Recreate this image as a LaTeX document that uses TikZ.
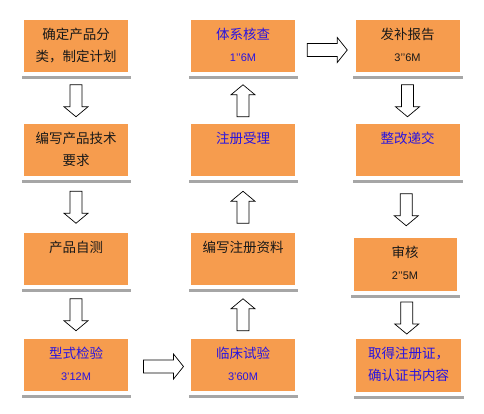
\documentclass[tikz,border=0pt]{standalone}
\usepackage{fontspec}
\setmainfont{Noto Sans CJK SC}
\newfontfamily\numfont{Liberation Sans}
\usetikzlibrary{calc}

\definecolor{boxorange}{RGB}{246,156,78}
\definecolor{txtblue}{RGB}{40,20,225}
\definecolor{txtblack}{RGB}{25,25,25}
\newcommand{\mnum}[1]{{\numfont\fontsize{11}{22}\selectfont #1}}

\tikzset{
  box/.style={fill=boxorange,minimum width=104pt,minimum height=52pt,inner sep=0pt},
  txt/.style={anchor=base,align=center,inner sep=0pt,font=\fontsize{13.5}{22}\selectfont},
  shadowbar/.style={fill=black!35},
  vtip/.pic={\draw[fill=white,line width=0.7pt] (-16,-6) -- (6,-6) -- (6,-12) -- (16,0)
    -- (6,12) -- (6,6) -- (-16,6) -- cycle;},
  htip/.pic={\draw[fill=white,line width=0.7pt] (-20,-6.5) -- (10,-6.5) -- (10,-12.5) -- (20,0)
    -- (10,12.5) -- (10,6.5) -- (-20,6.5) -- cycle;}
}

\begin{document}
\begin{tikzpicture}[x=1pt,y=-1pt]
\useasboundingbox[fill=white] (0,0) rectangle (484,413);

% boxes
\node[box] (fenlei) at (76,46) {};
\node[box] (jishu) at (76,149.5) {};
\node[box] (zice) at (76,259) {};
\node[box] (xingjian) at (76,364.5) {};
\node[box] (linchuang) at (243,364.5) {};
\node[box] (bianxie) at (243,259) {};
\node[box] (shouli) at (243,149.5) {};
\node[box] (hecha) at (243,46) {};
\node[box] (bubao) at (407.5,46) {};
\node[box] (zhenggai) at (407.5,149.5) {};
\node[box,minimum width=103pt,minimum height=53pt] (shenhe) at (405,264.5) {};
\node[box,minimum width=105pt,minimum height=53pt] (quzheng) at (408.5,365.5) {};

\foreach \b in {fenlei,jishu,zice,xingjian,linchuang,bianxie,shouli,hecha,bubao,zhenggai,shenhe,quzheng}
  \fill[shadowbar] ([xshift=-2pt,yshift=-4pt]\b.south west) rectangle ([xshift=3pt,yshift=-7pt]\b.south east);

% texts (two-line nodes sit on their last baseline)
\node[txt,text=txtblack] (fenleit) at ([yshift=-42pt]fenlei.north) {确定产品分\\类，制定计划};
\node[txt,text=txtblack] (jishut) at ([yshift=-42pt]jishu.north) {编写产品技术\\要求};
\node[txt,text=txtblack] (zicet) at ([yshift=-20pt]zice.north) {产品自测};
\node[txt,text=txtblue] (xingjiant) at ([yshift=-42pt]xingjian.north) {型式检验\\\mnum{3’12M}};
\node[txt,text=txtblue] (linchuangt) at ([yshift=-42pt]linchuang.north) {临床试验\\\mnum{3’60M}};
\node[txt,text=txtblack] (bianxiet) at ([yshift=-20pt]bianxie.north) {编写注册资料};
\node[txt,text=txtblue] (shoulit) at ([yshift=-20pt]shouli.north) {注册受理};
\node[txt,text=txtblue] (hechat) at ([yshift=-42pt]hecha.north) {体系核查\\\mnum{1’’6M}};
\node[txt,text=txtblack] (bubaot) at ([yshift=-42pt]bubao.north) {发补报告\\\mnum{3’’6M}};
\node[txt,text=txtblue] (zhenggait) at ([yshift=-20pt]zhenggai.north) {整改递交};
\node[txt,text=txtblack] (shenhet) at ([yshift=-42pt]shenhe.north) {审核\\\mnum{2’’5M}};
\node[txt,text=txtblue] (quzhengt) at ([yshift=-42pt]quzheng.north) {取得注册证，\\确认证书内容};

% block arrows
\pic[rotate=-90] at ([yshift=-3pt]$(fenlei.south)!0.5!(jishu.north)$) {vtip};
\pic[rotate=-90] at ([yshift=-3pt]$(jishu.south)!0.5!(zice.north)$) {vtip};
\pic[rotate=-90] at ([yshift=-3pt]$(zice.south)!0.5!(xingjian.north)$) {vtip};
\pic at ([xshift=4pt,yshift=-2pt]$(xingjian.east)!0.5!(linchuang.west)$) {htip};
\pic[rotate=90] at ([yshift=-3pt]$(bianxie.south)!0.5!(linchuang.north)$) {vtip};
\pic[rotate=90] at ([yshift=-3pt]$(shouli.south)!0.5!(bianxie.north)$) {vtip};
\pic[rotate=90] at ([yshift=-3pt]$(hecha.south)!0.5!(shouli.north)$) {vtip};
\pic at ([xshift=2pt,yshift=-4pt]$(hecha.east)!0.5!(bubao.west)$) {htip};
\pic[rotate=-90] at ([yshift=-3pt]$(bubao.south)!0.5!(zhenggai.north)$) {vtip};
\pic[rotate=-90] at ([yshift=-3pt]$(zhenggai.south)!0.5!(shenhe.north)$) {vtip};
\pic[rotate=-90] at ([yshift=-3pt]$(shenhe.south)!0.5!(quzheng.north)$) {vtip};
\end{tikzpicture}
\end{document}
